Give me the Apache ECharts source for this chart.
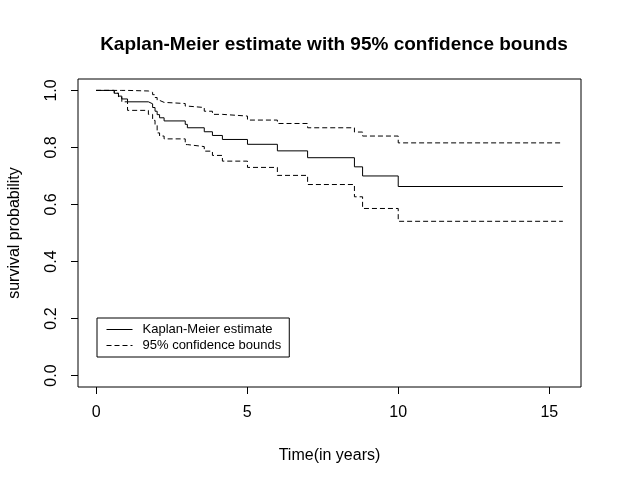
<!DOCTYPE html>
<html>
<head>
<meta charset="utf-8">
<script src="https://cdn.jsdelivr.net/npm/echarts@6/dist/echarts.min.js"></script>
<style>html,body{margin:0;padding:0;background:#fff}#c{width:621px;height:485px}</style>
</head>
<body>
<div id="c"></div>
<script>
// Event times (years) and survival estimates
var times =      [0,    0.6,  0.74, 0.85, 1.04, 1.73,  1.87, 1.95,  2.02,  2.1,   2.25,  2.95,  3.02,  3.58,  3.85,  4.18,  5.01,  6.0,   7.0,   8.55,  8.82,  10.0,  15.45];
var kmEst =      [1.0,  0.99, 0.98, 0.97, 0.96, 0.953, 0.94, 0.927, 0.915, 0.904, 0.893, 0.881, 0.869, 0.855, 0.842, 0.828, 0.811, 0.788, 0.764, 0.732, 0.70,  0.663, 0.663];
var upperCI =    [1.0,  1.0,  1.0,  1.0,  0.998,0.993, 0.985,0.975, 0.965, 0.958, 0.954, 0.945, 0.94,  0.927, 0.916, 0.91,  0.896, 0.884, 0.869, 0.854, 0.84,  0.816, 0.816];
var lowerCI =    [1.0,  0.99, 0.975,0.96, 0.93, 0.916, 0.895,0.878, 0.851, 0.84,  0.83,  0.81,  0.803, 0.787, 0.772, 0.752, 0.73,  0.702, 0.67,  0.627, 0.586, 0.541, 0.541];
var xTicks = [0, 5, 10, 15];
var yTicks = [0, 0.2, 0.4, 0.6, 0.8, 1.0];
var titleText = 'Kaplan-Meier estimate with 95% confidence bounds';
var xName = 'Time(in years)';
var yName = 'survival probability';
var kmName = 'Kaplan-Meier estimate';
var ciName = '95% confidence bounds';

function pairs(xs, ys) { return xs.map(function (x, i) { return [x, ys[i]]; }); }

var font = 'Liberation Sans, Arial, sans-serif';
var chart = echarts.init(document.getElementById('c'), null, {renderer: 'canvas'});
var dash = [5, 3];
chart.setOption({
  animation: false,
  backgroundColor: '#fff',
  title: {
    text: titleText, left: 329, top: 30, textAlign: 'center',
    textStyle: {fontFamily: font, fontSize: 19, fontWeight: 'bold', color: '#000'}
  },
  grid: {left: 78, right: 40, top: 79, bottom: 98, show: true, borderColor: '#000', borderWidth: 1,
         backgroundColor: 'transparent', containLabel: false, outerBoundsMode: 'none'},
  legend: {
    orient: 'vertical', left: 97, top: 318,
    data: [kmName, ciName],
    itemWidth: 26, itemHeight: 10, itemGap: 3,
    padding: [5, 8, 5, 9],
    borderColor: '#000', borderWidth: 1, borderRadius: 0,
    itemStyle: {opacity: 0},
    lineStyle: {width: 1},
    textStyle: {fontFamily: font, fontSize: 13, color: '#000', padding: [0, 0, 0, 5]}
  },
  xAxis: {
    type: 'value', min: -0.6, max: 16.05,
    name: xName, nameLocation: 'middle', nameGap: 61,
    nameTextStyle: {fontFamily: font, fontSize: 16, color: '#000'},
    axisLine: {show: false, onZero: false},
    axisTick: {show: true, inside: false, length: 7, lineStyle: {color: '#000'}, customValues: xTicks},
    axisLabel: {customValues: xTicks, fontFamily: font, fontSize: 16, color: '#000', margin: 18},
    splitLine: {show: false}
  },
  yAxis: {
    type: 'value', min: -0.04, max: 1.04,
    name: yName, nameLocation: 'middle', nameGap: 55, nameRotate: 90,
    nameTextStyle: {fontFamily: font, fontSize: 16, color: '#000'},
    axisLine: {show: false, onZero: false},
    axisTick: {show: true, inside: false, length: 7, lineStyle: {color: '#000'}, customValues: yTicks},
    axisLabel: {customValues: yTicks, rotate: 90, fontFamily: font, fontSize: 16, color: '#000', margin: 18,
      formatter: function (v) { return v.toFixed(1); }},
    splitLine: {show: false}
  },
  series: [
    {name: kmName, type: 'line', step: 'end', showSymbol: false, symbol: 'none',
     data: pairs(times, kmEst), lineStyle: {color: '#000', width: 1, type: 'solid'}, itemStyle: {color: '#000'}},
    {name: ciName, type: 'line', step: 'end', showSymbol: false, symbol: 'none',
     data: pairs(times, upperCI), lineStyle: {color: '#000', width: 1, type: dash}, itemStyle: {color: '#000'}},
    {name: ciName, type: 'line', step: 'end', showSymbol: false, symbol: 'none',
     data: pairs(times, lowerCI), lineStyle: {color: '#000', width: 1, type: dash}, itemStyle: {color: '#000'}}
  ]
});
</script>
</body>
</html>
